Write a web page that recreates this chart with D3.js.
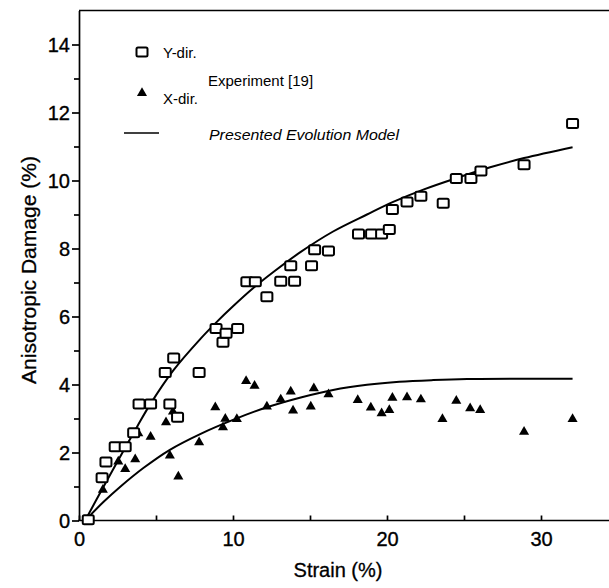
<!DOCTYPE html>
<html>
<head>
<meta charset="utf-8">
<script src="https://cdn.jsdelivr.net/npm/d3@7"></script>
<style>
  body { margin: 0; background: #fff; }
  svg { display: block; font-family: "Liberation Sans", Arial, sans-serif; }
  .axis path, .axis line { stroke: #000; stroke-width: 1.7; }
  .axis text { font-size: 20px; fill: #000; stroke: #000; stroke-width: 0.35; }
  .title { fill: #000; stroke: #000; stroke-width: 0.3; }
</style>
</head>
<body>
<div id="chart"></div>
<script>
// experiment, Y-direction (open squares): [strain %, damage %]
const yDirStrain = [0.6, 1.5, 1.75, 2.35, 3.0, 3.55, 3.9, 4.65, 5.6, 6.15, 5.9, 6.4, 7.8, 8.9, 9.35, 9.55, 10.3,
  10.9, 11.45, 12.2, 13.1, 14.0, 13.75, 15.1, 15.3, 16.2, 18.15, 19.0, 19.65, 20.15, 20.35, 21.3, 22.2,
  23.65, 24.5, 25.45, 26.1, 28.9, 32.05];
const yDirDamage = [0.02, 1.26, 1.72, 2.17, 2.17, 2.58, 3.43, 3.43, 4.35, 4.78, 3.43, 3.04, 4.35, 5.65, 5.24, 5.51, 5.65,
  7.02, 7.02, 6.58, 7.04, 7.04, 7.49, 7.49, 7.96, 7.93, 8.43, 8.43, 8.43, 8.56, 9.15, 9.37, 9.54,
  9.33, 10.06, 10.06, 10.28, 10.46, 11.68];

// experiment, X-direction (filled triangles)
const xDirStrain = [1.55, 2.55, 3.0, 3.65, 3.85, 4.65, 5.65, 6.1, 5.9, 6.45, 7.8, 8.85, 9.5, 9.35, 10.25,
  10.85, 11.4, 12.2, 13.1, 13.75, 13.9, 15.05, 15.25, 16.2, 18.1, 18.95, 19.65, 20.15, 20.35, 21.3, 22.2,
  23.6, 24.5, 25.4, 26.05, 28.9, 32.05];
const xDirDamage = [0.9, 1.73, 1.51, 1.8, 2.56, 2.46, 2.89, 3.2, 1.91, 1.29, 2.3, 3.33, 2.99, 2.74, 2.98,
  4.1, 3.96, 3.35, 3.56, 3.79, 3.23, 3.35, 3.89, 3.71, 3.54, 3.32, 3.15, 3.25, 3.61, 3.62, 3.56,
  2.98, 3.52, 3.3, 3.25, 2.61, 2.98];

// presented evolution model
const modelYStrain = [0.4, 1.6, 2.7, 3.8, 4.6, 6.1, 7.9, 8.9, 10.0, 11.3, 12.6, 14.4, 16.5, 18.7, 20.4, 22.4, 24.5, 26.7, 28.9, 32.05];
const modelYDamage = [0, 1.0, 1.9, 2.78, 3.4, 4.4, 5.35, 5.82, 6.3, 6.83, 7.3, 7.9, 8.5, 9.0, 9.37, 9.74, 10.07, 10.39, 10.66, 10.98];
const modelXStrain = [0.4, 1.6, 2.7, 4.2, 5.9, 7.9, 10.0, 12.2, 14.4, 16.5, 18.7, 20.8, 23.0, 25.2, 32.05];
const modelXDamage = [0, 0.55, 1.0, 1.55, 2.08, 2.55, 2.96, 3.33, 3.62, 3.84, 3.99, 4.08, 4.13, 4.16, 4.17];

const xTicks = [0, 5, 10, 15, 20, 25, 30, 35];
const xLabels = [0, 10, 20, 30];
const yMajor = [0, 2, 4, 6, 8, 10, 12, 14];
const yMinor = [1, 3, 5, 7, 9, 11, 13];

const W = 609, H = 588;
const margin = {left: 79, top: 10.5, bottom: 67.5};

const svg = d3.select("#chart").append("svg")
  .attr("width", W)
  .attr("height", H);

const x = d3.scaleLinear().domain([0, 35]).range([margin.left, margin.left + 15.4 * 35]);
const y = d3.scaleLinear().domain([0, 15]).range([H - margin.bottom, margin.top]);

// axes
const xAxis = svg.append("g")
  .attr("class", "axis")
  .attr("transform", "translate(0," + y(0) + ")")
  .call(d3.axisBottom(x).tickValues(xTicks).tickSize(-5).tickSizeOuter(0)
    .tickFormat(d => xLabels.includes(d) ? d : ""));
xAxis.select(".domain").attr("d", "M" + (margin.left - 1) + ",0H" + W);
xAxis.selectAll("text").attr("dy", "1.1em");

const yAxis = svg.append("g")
  .attr("class", "axis")
  .attr("transform", "translate(" + margin.left + ",0)")
  .call(d3.axisLeft(y).tickValues(yMajor).tickSize(7).tickPadding(2).tickSizeOuter(0));
yAxis.selectAll(".tick text").attr("dy", "0.36em");

svg.append("g")
  .attr("class", "axis")
  .attr("transform", "translate(" + margin.left + ",0)")
  .call(d3.axisLeft(y).tickValues(yMinor).tickSize(5).tickFormat(""))
  .select(".domain").remove();

// top frame line
svg.append("line")
  .attr("x1", margin.left).attr("x2", W)
  .attr("y1", y(15)).attr("y2", y(15))
  .attr("stroke", "#000").attr("stroke-width", 1.7);

// axis titles
svg.append("text")
  .attr("class", "title")
  .attr("x", 338).attr("y", 577)
  .attr("text-anchor", "middle")
  .style("font-size", "20px")
  .text("Strain (%)");

svg.append("text")
  .attr("class", "title")
  .attr("transform", "translate(36,270) rotate(-90)")
  .attr("text-anchor", "middle")
  .style("font-size", "20px")
  .attr("textLength", 228).attr("lengthAdjust", "spacingAndGlyphs")
  .text("Anisotropic Damage (%)");

// model curves
const line = d3.line()
  .x(d => x(d[0]))
  .y(d => y(d[1]))
  .curve(d3.curveCatmullRom.alpha(0.5));

svg.append("path")
  .datum(modelYStrain.map((s, i) => [s, modelYDamage[i]]))
  .attr("fill", "none").attr("stroke", "#000").attr("stroke-width", 2)
  .attr("d", line);

svg.append("path")
  .datum(modelXStrain.map((s, i) => [s, modelXDamage[i]]))
  .attr("fill", "none").attr("stroke", "#000").attr("stroke-width", 2)
  .attr("d", line);

// markers
const tri = d3.symbol().type(d3.symbolTriangle).size(44);

svg.append("g").selectAll("path")
  .data(xDirStrain.map((s, i) => [s, xDirDamage[i]]))
  .join("path")
  .attr("d", tri)
  .attr("transform", d => "translate(" + x(d[0]) + "," + y(d[1]) + ")")
  .attr("fill", "#000");

svg.append("g").selectAll("rect")
  .data(yDirStrain.map((s, i) => [s, yDirDamage[i]]))
  .join("rect")
  .attr("x", d => x(d[0]) - 5.5)
  .attr("y", d => y(d[1]) - 4.5)
  .attr("width", 11).attr("height", 9)
  .attr("rx", 1.5)
  .attr("fill", "#fff")
  .attr("stroke", "#000").attr("stroke-width", 2);

// legend
const legend = svg.append("g").style("font-size", "15px");
legend.append("rect")
  .attr("x", 136.5).attr("y", 47.5).attr("width", 11).attr("height", 9).attr("rx", 1.5)
  .attr("fill", "#fff").attr("stroke", "#000").attr("stroke-width", 2);
legend.append("text").attr("x", 163).attr("y", 58).text("Y-dir.");
legend.append("path")
  .attr("d", tri).attr("transform", "translate(142,93)").attr("fill", "#000");
legend.append("text").attr("x", 163).attr("y", 104).text("X-dir.");
legend.append("text").attr("x", 208).attr("y", 86).text("Experiment [19]");
legend.append("line")
  .attr("x1", 124).attr("x2", 159).attr("y1", 133).attr("y2", 133)
  .attr("stroke", "#000").attr("stroke-width", 1.7);
legend.append("text").attr("x", 209).attr("y", 140)
  .style("font-size", "14px")
  .style("font-style", "italic")
  .attr("textLength", 190).attr("lengthAdjust", "spacingAndGlyphs")
  .text("Presented Evolution Model");
</script>
</body>
</html>
